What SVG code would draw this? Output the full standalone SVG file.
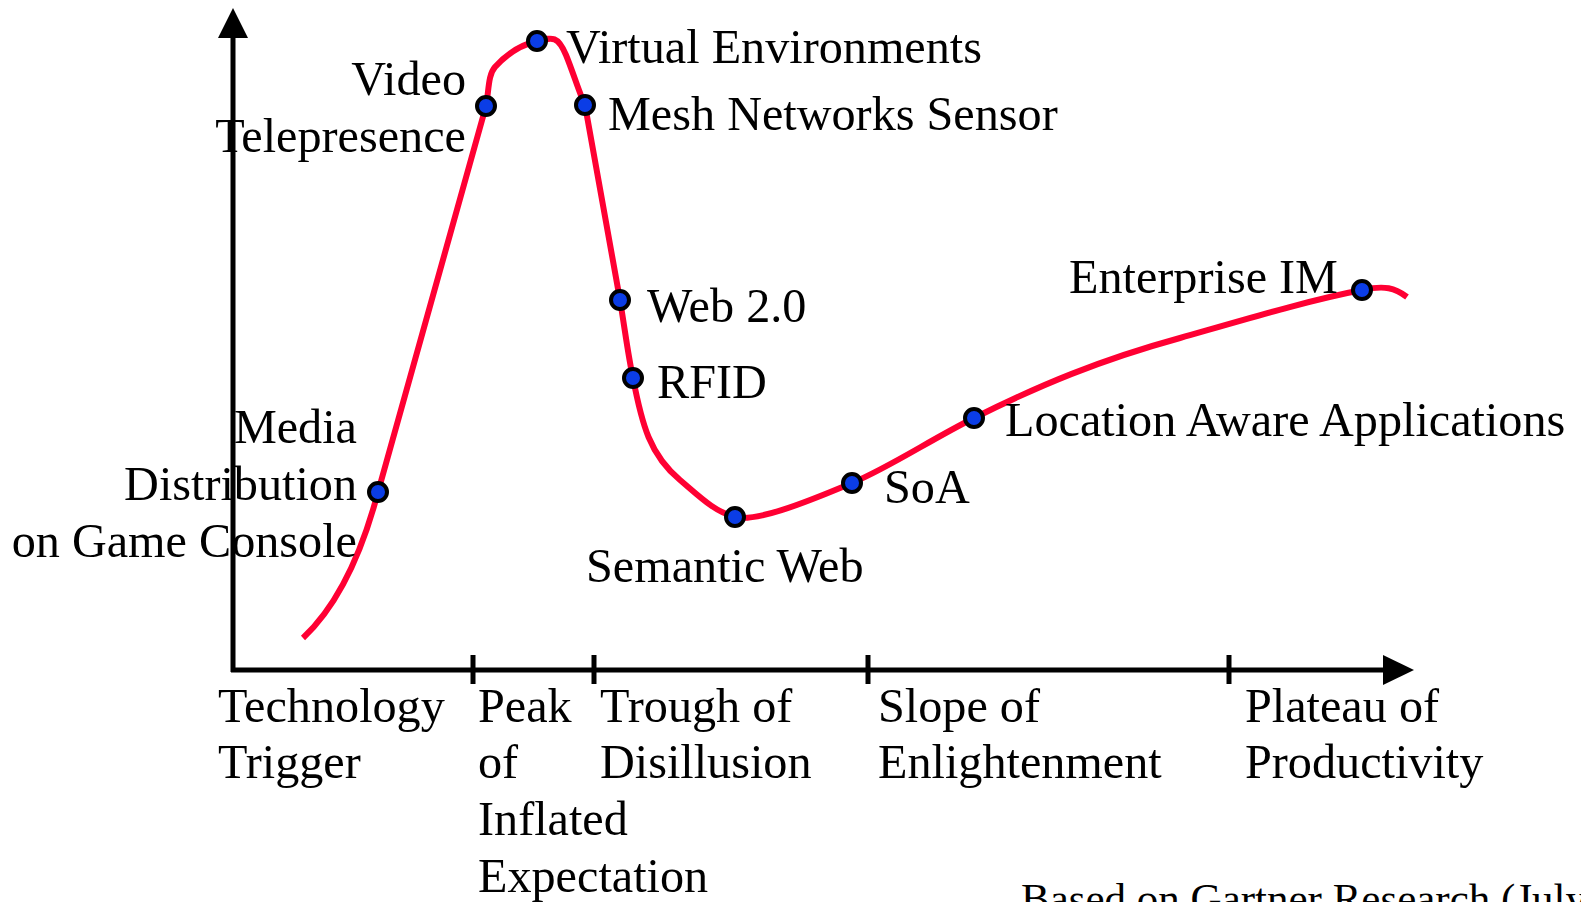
<svg xmlns="http://www.w3.org/2000/svg" width="1581" height="902" viewBox="0 0 1581 902">
<style>
text{font-family:"Liberation Serif","Times New Roman",serif;font-size:48.2px;fill:#000}
.ax{stroke:#000;stroke-width:5;fill:none}
.curve{stroke:#ff0033;stroke-width:6;fill:none;stroke-linejoin:round}
.dot{fill:#0b3de6;stroke:#000;stroke-width:4}
.r{text-anchor:end}
.note{font-size:43px}
</style>
<rect width="1581" height="902" fill="#fff"/>
<g id="axes">
<line class="ax" x1="233" y1="672" x2="233" y2="34"/>
<polygon points="233,8 218,38 248,38" fill="#000"/>
<line class="ax" x1="231" y1="670" x2="1386" y2="670"/>
<polygon points="1414,670 1383,655 1383,685" fill="#000"/>
<line class="ax" x1="473" y1="655" x2="473" y2="684"/>
<line class="ax" x1="594" y1="655" x2="594" y2="684"/>
<line class="ax" x1="868" y1="655" x2="868" y2="684"/>
<line class="ax" x1="1229" y1="655" x2="1229" y2="684"/>
</g>
<g id="connectors">
<path class="curve" d="M303,638 C335,608 360,560 378,492 L486,106 C489,90 488,75 495,67 C505,56 520,45 537,41 C553,37 558,36 566,55 C573,72 580,95 585,105 L620,300 C625,330 628,355 633,378 C642,425 650,455 680,480 C700,497 715,512 735,517 C755,522 800,505 852,483 C890,467 930,440 974,418 C1040,385 1100,360 1180,338 C1250,318 1310,300 1362,290 C1385,285 1395,288 1407,297"/>
</g>
<g id="media"><circle class="dot" cx="378" cy="492" r="9"/><text class="r" x="357" y="443">Media</text><text class="r" x="357" y="500">Distribution</text><text class="r" x="357" y="557">on Game Console</text></g>
<g id="video"><circle class="dot" cx="486" cy="106" r="9"/><text class="r" x="466" y="95">Video</text><text class="r" x="466" y="152">Telepresence</text></g>
<g id="virtual"><circle class="dot" cx="537" cy="41" r="9"/><text x="566" y="63">Virtual Environments</text></g>
<g id="mesh"><circle class="dot" cx="585" cy="105" r="9"/><text x="608" y="130">Mesh Networks Sensor</text></g>
<g id="web20"><circle class="dot" cx="620" cy="300" r="9"/><text x="647" y="322">Web 2.0</text></g>
<g id="rfid"><circle class="dot" cx="633" cy="378" r="9"/><text x="657" y="398">RFID</text></g>
<g id="semantic"><circle class="dot" cx="735" cy="517" r="9"/><text x="586" y="582">Semantic Web</text></g>
<g id="soa"><circle class="dot" cx="852" cy="483" r="9"/><text x="884" y="503">SoA</text></g>
<g id="location"><circle class="dot" cx="974" cy="418" r="9"/><text x="1005" y="436">Location Aware Applications</text></g>
<g id="enterprise"><circle class="dot" cx="1362" cy="290" r="9"/><text x="1069" y="293">Enterprise IM</text></g>
<g id="phases">
<text x="218" y="722">Technology</text><text x="218" y="778">Trigger</text>
<text x="478" y="722">Peak</text><text x="478" y="778">of</text><text x="478" y="835">Inflated</text><text x="478" y="892">Expectation</text>
<text x="600" y="722">Trough of</text><text x="600" y="778">Disillusion</text>
<text x="878" y="722">Slope of</text><text x="878" y="778">Enlightenment</text>
<text x="1245" y="722">Plateau of</text><text x="1245" y="778">Productivity</text>
</g>
<text class="note" x="1021" y="913">Based on Gartner Research (July</text>
</svg>
